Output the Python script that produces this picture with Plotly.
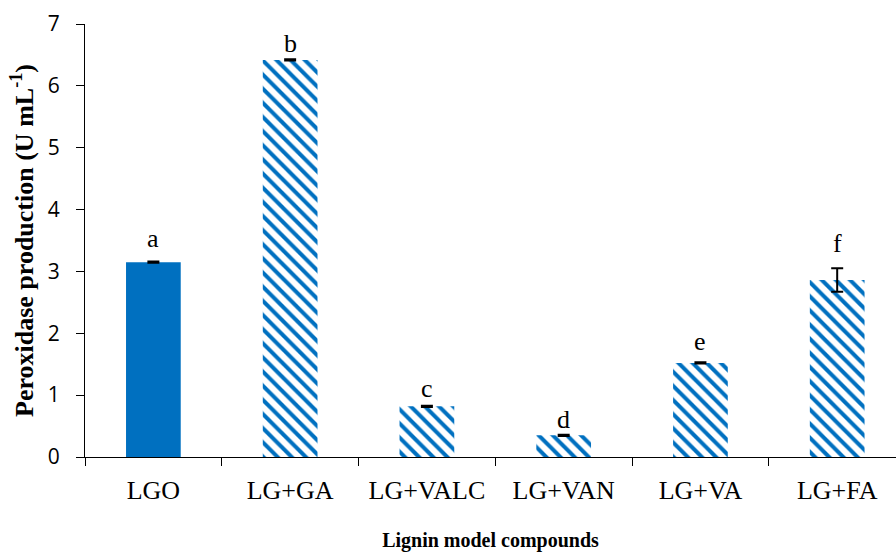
import plotly.graph_objects as go

categories = ["LGO", "LG+GA", "LG+VALC", "LG+VAN", "LG+VA", "LG+FA"]
values = [3.15, 6.42, 0.82, 0.35, 1.52, 2.86]
errors = [0.01, 0.01, 0.01, 0.01, 0.01, 0.19]
letters = ["a", "b", "c", "d", "e", "f"]
letter_y = [3.54, 6.69, 1.11, 0.60, 1.86, 3.45]

blue = "#0070C0"
shapes = ["", "\\", "\\", "\\", "\\", "\\"]

fig = go.Figure()
fig.add_trace(go.Bar(
    x=categories, y=values, width=0.4,
    marker=dict(
        color=blue,
        line=dict(width=0),
        pattern=dict(shape=shapes, fillmode="replace", fgcolor=blue, bgcolor="white",
                     fgopacity=1, size=10, solidity=0.4),
    ),
    error_y=dict(type="data", array=errors, visible=True, color="black", thickness=2, width=6),
    showlegend=False,
))

for c, t, yy in zip(categories, letters, letter_y):
    fig.add_annotation(x=c, y=yy, text=t, showarrow=False,
                       font=dict(family="Liberation Serif", size=26, color="black"))

fig.update_layout(
    width=896, height=556,
    margin=dict(l=85, r=0, t=24, b=99),
    plot_bgcolor="white", paper_bgcolor="white",
    bargap=0.6,
)
fig.update_xaxes(
    range=[-0.5, 5.43], showline=True, linecolor="black", linewidth=1,
    ticks="outside", tickson="boundaries", ticklen=8, tickcolor="black",
    tickfont=dict(family="Liberation Serif", size=26, color="black"),
    ticklabelstandoff=10,
    title=dict(text="<b>Lignin model compounds</b>", standoff=28,
               font=dict(family="Liberation Serif", size=20, color="black")),
    showgrid=False,
)
fig.update_yaxes(
    range=[0, 7], dtick=1, showline=True, linecolor="black", linewidth=1,
    ticks="outside", ticklen=8, tickcolor="black",
    tickfont=dict(family="Open Sans", size=21, color="black"),
    ticklabelstandoff=12,
    title=dict(text="<b>Peroxidase production (U mL<sup>-1</sup>)</b>", standoff=6,
               font=dict(family="Liberation Serif", size=26, color="black")),
    showgrid=False, zeroline=False,
)

fig.write_html("out.html")
